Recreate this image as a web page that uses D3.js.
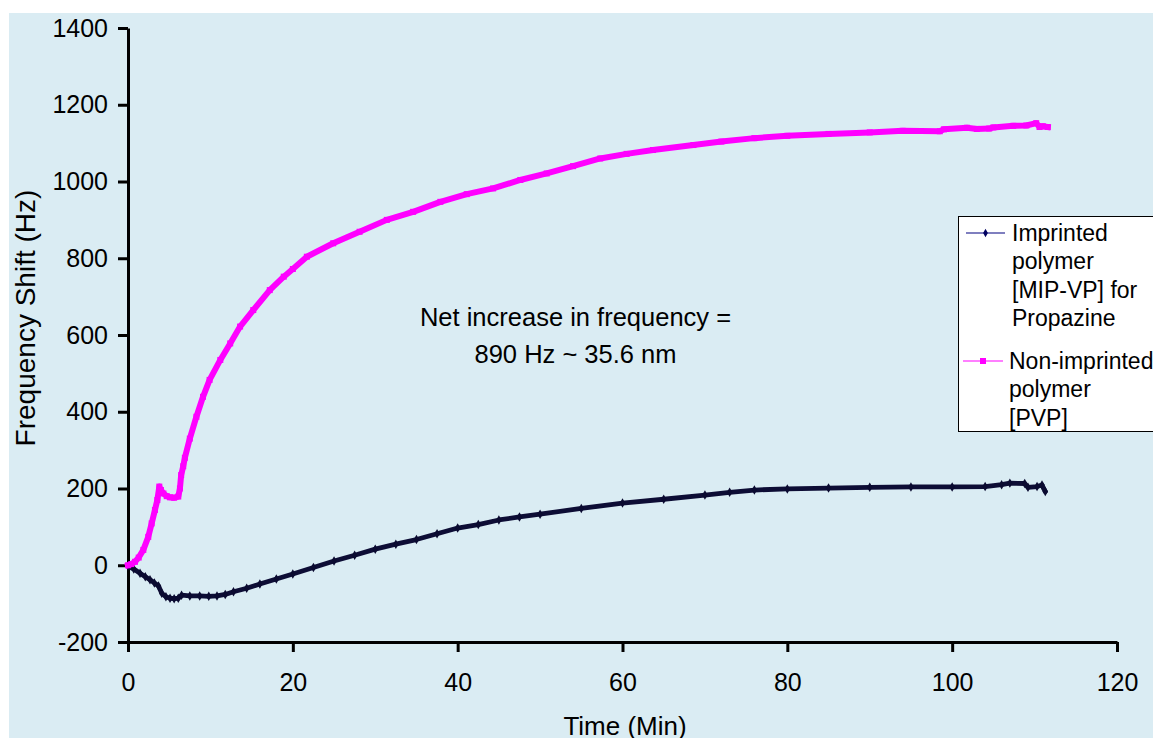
<!DOCTYPE html>
<html>
<head>
<meta charset="utf-8">
<script src="https://cdn.jsdelivr.net/npm/d3@7"></script>
<style>
  html, body { margin: 0; padding: 0; background: #ffffff; }
  svg { display: block; font-family: "Liberation Sans", Arial, sans-serif; }
</style>
</head>
<body>
<svg id="chart" width="1153" height="738"></svg>
<script>
// Time (min) and frequency shift (Hz) for the non-imprinted polymer [PVP]
const pvpTime = [0, 0.4, 0.85, 1.3, 1.86, 2.46, 2.87, 3.27, 3.56, 3.8, 4.0, 4.3, 4.7, 5.1, 5.6, 6.1,
  6.3, 6.45, 6.7, 6.9, 7.5, 8.3, 9.1, 9.9, 11.2, 12.4, 13.6, 15.2, 17.2, 18.9, 20, 21.7, 24.9,
  28.1, 31.4, 34.6, 37.9, 41.1, 44.3, 47.6, 50.8, 54.0, 57.3, 60.5, 63.7, 68.6, 72, 76, 80, 85,
  90, 94, 98.5, 99, 101.8, 103, 104.5, 105, 107.4, 109, 110.2, 110.6, 111, 111.6];
const pvpShift = [0, 3, 9, 20, 40, 74, 109, 144, 170, 205, 196, 187, 180, 177, 176, 179,
  200, 235, 258, 280, 330, 387, 439, 483, 535, 578, 622, 665, 717, 752, 772, 804, 839,
  869, 900, 921, 947, 967, 982, 1004, 1021, 1040, 1060, 1072, 1082, 1095, 1104, 1113, 1119, 1124,
  1128, 1132, 1131, 1136, 1140, 1137, 1138, 1141, 1145, 1146, 1152, 1142, 1144, 1142];

// Time (min) and frequency shift (Hz) for the imprinted polymer [MIP-VP]
const mipTime = [0, 0.7, 1.46, 2.1, 2.67, 3.2, 3.7, 4.1, 4.6, 5.1, 5.6, 6.1, 6.5, 7.5, 8.7, 9.8,
  10.8, 11.8, 12.8, 14.4, 16, 18, 20, 22.5, 25, 27.5, 30, 32.5, 35, 37.5, 40, 42.5, 45, 47.5, 50,
  55, 60, 65, 70, 73, 76, 80, 85, 90, 95, 100, 104, 106, 107, 108.8, 109.2, 110.3, 110.9, 111.3];
const mipShift = [-2, -10, -21, -30, -38, -46, -54, -73, -82, -86, -87, -86, -78, -80, -80, -81,
  -80, -76, -69, -60, -49, -36, -23, -6, 11, 26, 42, 55, 67, 82, 97, 106, 118, 126, 133,
  148, 162, 172, 183, 190, 196, 199, 201, 203, 204, 204, 205, 210, 214, 213, 203, 205, 209, 192];

const xTicks = [0, 20, 40, 60, 80, 100, 120];
const yTicks = [-200, 0, 200, 400, 600, 800, 1000, 1200, 1400];

const legendLabels = [
  ["Imprinted", "polymer", "[MIP-VP] for", "Propazine"],
  ["Non-imprinted", "polymer", "[PVP]"]
];
const noteLines = ["Net increase in frequency =", "890 Hz ~ 35.6 nm"];

const svg = d3.select("#chart");

// light blue chart area
svg.append("rect")
  .attr("x", 9).attr("y", 13)
  .attr("width", 1153 - 9).attr("height", 738 - 13)
  .attr("fill", "#daecf3");

const x = d3.scaleLinear().domain([0, 120]).range([128, 1117]);
const y = d3.scaleLinear().domain([-200, 1400]).range([642, 28]);

// axes (plain hyphen for negative numbers)
const fmt = d => String(d);
const yAxis = svg.append("g")
  .attr("transform", `translate(${x(0)},0)`)
  .call(d3.axisLeft(y).tickValues(yTicks).tickSize(10).tickSizeOuter(0).tickPadding(10)
    .tickFormat(fmt));
const xAxis = svg.append("g")
  .attr("transform", `translate(0,${y(-200)})`)
  .call(d3.axisBottom(x).tickValues(xTicks).tickSize(10).tickSizeOuter(0).tickPadding(21)
    .tickFormat(fmt));

[xAxis, yAxis].forEach(g => {
  g.select(".domain").attr("stroke", "#000").attr("stroke-width", 3);
  g.selectAll(".tick line").attr("stroke", "#000").attr("stroke-width", 3);
  g.selectAll(".tick text")
    .attr("fill", "#000")
    .style("font-family", '"Liberation Sans", Arial, sans-serif')
    .style("font-size", "25px");
});

// axis titles
svg.append("text")
  .attr("x", 625).attr("y", 734.5)
  .attr("text-anchor", "middle")
  .style("font-size", "26px")
  .text("Time (Min)");
svg.append("text")
  .attr("transform", "translate(35,318) rotate(-90)")
  .attr("text-anchor", "middle")
  .style("font-size", "28px")
  .text("Frequency Shift (Hz)");

// series
const pvp = pvpTime.map((t, i) => [t, pvpShift[i]]);
const mip = mipTime.map((t, i) => [t, mipShift[i]]);
const line = d3.line().x(d => x(d[0])).y(d => y(d[1]));

svg.append("path")
  .datum(mip)
  .attr("d", line)
  .attr("fill", "none")
  .attr("stroke", "#0d0d35")
  .attr("stroke-width", 4.8)
  .attr("stroke-linejoin", "round")
  .attr("stroke-linecap", "round");
svg.append("g").selectAll("path")
  .data(mip).join("path")
  .attr("d", d3.symbol(d3.symbolDiamond, 26))
  .attr("transform", d => `translate(${x(d[0])},${y(d[1])})`)
  .attr("fill", "#0a0a30");

svg.append("path")
  .datum(pvp)
  .attr("d", line)
  .attr("fill", "none")
  .attr("stroke", "#ff00ff")
  .attr("stroke-width", 6)
  .attr("stroke-linejoin", "round")
  .attr("stroke-linecap", "square");
svg.append("g").selectAll("rect")
  .data(pvp).join("rect")
  .attr("x", d => x(d[0]) - 3).attr("y", d => y(d[1]) - 3)
  .attr("width", 6).attr("height", 6)
  .attr("fill", "#ff00ff");

// annotation
svg.append("text")
  .attr("text-anchor", "middle")
  .style("font-size", "25.5px")
  .selectAll("tspan")
  .data(noteLines).join("tspan")
  .attr("x", 575.5)
  .attr("y", (d, i) => 326 + i * 36.5)
  .text(d => d);

// legend
const legend = svg.append("g");
legend.append("rect")
  .attr("x", 958.5).attr("y", 216.5)
  .attr("width", 200).attr("height", 215)
  .attr("fill", "#ffffff")
  .attr("stroke", "#000").attr("stroke-width", 1);

const entryY = [233, 361];
const entryX = [[966, 1005, 1012], [963, 1003, 1009]];
const entryColor = ["#000080", "#ff00ff"];

legendLabels.forEach((lines, k) => {
  const ly = entryY[k];
  const [x0, x1, tx] = entryX[k];
  legend.append("line")
    .attr("x1", x0).attr("x2", x1).attr("y1", ly).attr("y2", ly)
    .attr("stroke", entryColor[k]).attr("stroke-width", 1.2);
  if (k === 0) {
    legend.append("path")
      .attr("d", d3.symbol(d3.symbolDiamond, 20))
      .attr("transform", `translate(${(x0 + x1) / 2},${ly})`)
      .attr("fill", "#000060");
  } else {
    legend.append("rect")
      .attr("x", (x0 + x1) / 2 - 3).attr("y", ly - 3)
      .attr("width", 6).attr("height", 6)
      .attr("fill", "#ff00ff");
  }
  legend.append("text")
    .style("font-size", "23px")
    .selectAll("tspan")
    .data(lines).join("tspan")
    .attr("x", tx)
    .attr("y", (d, i) => ly + 8 + i * 28.3)
    .text(d => d);
});
</script>
</body>
</html>
